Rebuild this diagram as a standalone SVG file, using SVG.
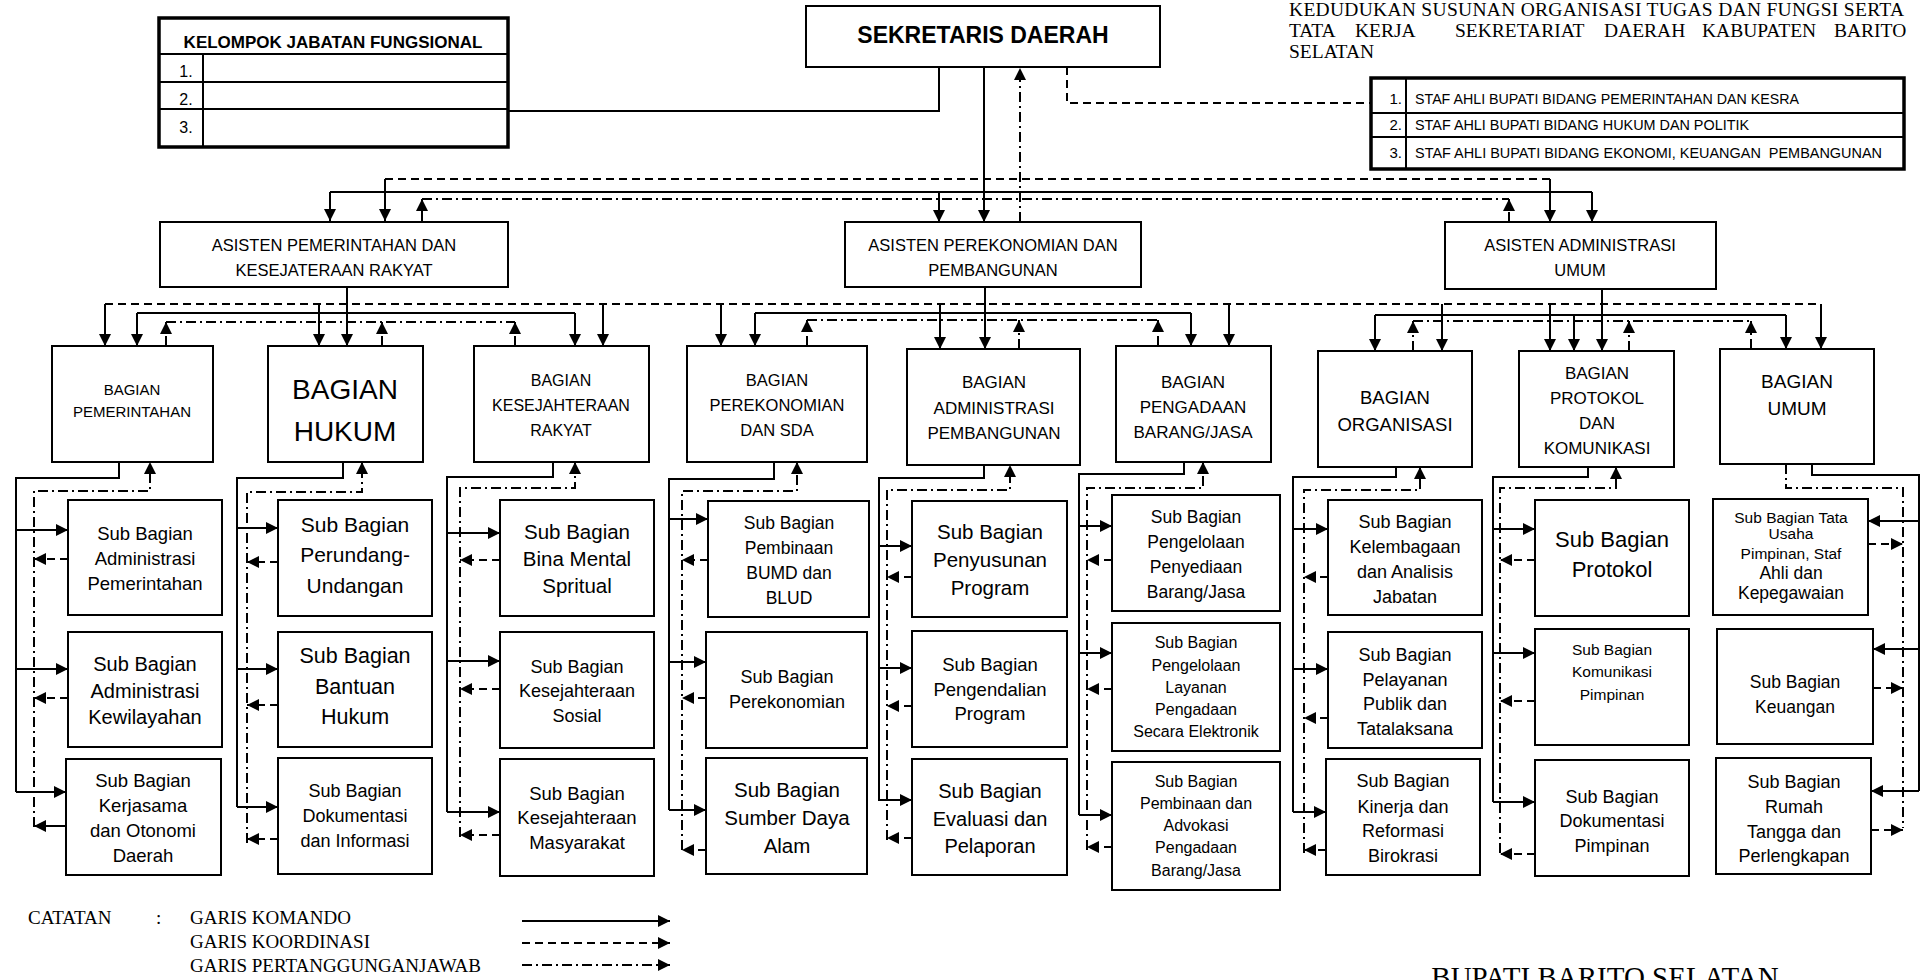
<svg xmlns="http://www.w3.org/2000/svg" width="1920" height="980" viewBox="0 0 1920 980">
<defs>
<marker id="ar" markerUnits="userSpaceOnUse" markerWidth="13" markerHeight="13" refX="12" refY="6.5" orient="auto"><path d="M0,0.5 L12,6.5 L0,12.5 z" fill="#000"/></marker>
<style>
.bx{fill:#fff;stroke:#000;stroke-width:2}
.tk{fill:#fff;stroke:#000;stroke-width:3.5}
.ln{fill:none;stroke:#000;stroke-width:2}
.t{font-family:"Liberation Sans",Arial,sans-serif;text-anchor:middle;fill:#000}
.ts{font-family:"Liberation Sans",Arial,sans-serif;fill:#000}
.sf{font-family:"Liberation Serif","Times New Roman",serif;fill:#000}
.s{fill:none;stroke:#000;stroke-width:2}
.d{fill:none;stroke:#000;stroke-width:2;stroke-dasharray:8 5}
.dd{fill:none;stroke:#000;stroke-width:2;stroke-dasharray:10 4 2 4}
.a{marker-end:url(#ar)}
</style>
</defs>
<rect width="1920" height="980" fill="#fff"/>

<!-- title -->
<g id="title" class="sf" font-size="19.5">
<text x="1289" y="16" textLength="615" lengthAdjust="spacing">KEDUDUKAN SUSUNAN ORGANISASI TUGAS DAN FUNGSI SERTA</text>
<text y="37"><tspan x="1289">TATA</tspan><tspan x="1355">KERJA</tspan><tspan x="1455">SEKRETARIAT</tspan><tspan x="1604">DAERAH</tspan><tspan x="1702">KABUPATEN</tspan><tspan x="1834">BARITO</tspan></text>
<text x="1289" y="58">SELATAN</text>
</g>

<!-- connectors -->
<g id="connectors">
<path class="s" d="M508,111 H939 V67"/>
<path class="s a" d="M984,67 V222"/>
<path class="dd a" d="M1020,222 V68"/>
<path class="d" d="M1067,67 V103 H1371"/>
<path class="d" d="M385,179 H1550"/>
<path class="s a" d="M385,179 V221"/>
<path class="s a" d="M1550,179 V222"/>
<path class="s" d="M330,192 H1592"/>
<path class="s a" d="M330,192 V221"/>
<path class="s a" d="M939,192 V222"/>
<path class="s a" d="M1592,192 V222"/>
<path class="dd" d="M422,199 H1509"/>
<path class="dd a" d="M422,221 V199"/>
<path class="dd a" d="M1509,222 V199"/>

<path class="s a" d="M347,287 V346"/>
<path class="s a" d="M985,287 V349"/>
<path class="s a" d="M1602,289 V351"/>

<path class="d" d="M105,304 H1821"/>
<path class="s a" d="M105,304 V346"/>
<path class="s a" d="M319,304 V346"/>
<path class="s a" d="M603,304 V346"/>
<path class="s a" d="M721,304 V346"/>
<path class="s a" d="M940,304 V349"/>
<path class="s a" d="M1229,304 V346"/>
<path class="s a" d="M1442,304 V351"/>
<path class="s a" d="M1550,304 V351"/>
<path class="s a" d="M1821,304 V349"/>

<path class="s" d="M137,313 H575"/>
<path class="s a" d="M137,313 V346"/>
<path class="s a" d="M575,313 V346"/>
<path class="s" d="M755,313 H1191"/>
<path class="s a" d="M755,313 V346"/>
<path class="s a" d="M1191,313 V346"/>
<path class="s" d="M1375,315 H1786"/>
<path class="s a" d="M1375,315 V351"/>
<path class="s a" d="M1574,315 V351"/>
<path class="s a" d="M1786,315 V349"/>

<path class="dd" d="M166,322 H515"/>
<path class="dd a" d="M166,346 V322"/>
<path class="dd a" d="M382,346 V322"/>
<path class="dd a" d="M515,346 V322"/>
<path class="dd" d="M807,320 H1158"/>
<path class="dd a" d="M807,346 V320"/>
<path class="dd a" d="M1019,349 V320"/>
<path class="dd a" d="M1158,346 V320"/>
<path class="dd" d="M1413,321 H1751"/>
<path class="dd a" d="M1413,351 V321"/>
<path class="dd a" d="M1629,351 V321"/>
<path class="dd a" d="M1751,349 V321"/>

<!-- G1 -->
<path class="s" d="M119,462 V478 H16 V792"/>
<path class="s a" d="M16,530 H68"/><path class="s a" d="M16,669 H68"/><path class="s a" d="M16,792 H66"/>
<path class="dd a" d="M34,827 V491 H150 V462"/>
<path class="d a" d="M68,559 H34"/><path class="d a" d="M68,698 H34"/><path class="s a" d="M66,826 H34"/>
<!-- G2 -->
<path class="s" d="M343,462 V478 H237 V807"/>
<path class="s a" d="M237,528 H278"/><path class="s a" d="M237,669 H278"/><path class="s a" d="M237,807 H278"/>
<path class="dd a" d="M247,843 V492 H362 V462"/>
<path class="d a" d="M278,562 H247"/><path class="d a" d="M278,705 H247"/><path class="d a" d="M278,839 H247"/>
<!-- G3 -->
<path class="s" d="M553,462 V477 H447 V812"/>
<path class="s a" d="M447,533 H500"/><path class="s a" d="M447,661 H500"/><path class="s a" d="M447,812 H500"/>
<path class="dd a" d="M460,837 V488 H575 V462"/>
<path class="d a" d="M500,560 H460"/><path class="d a" d="M500,689 H460"/><path class="d a" d="M500,835 H460"/>
<!-- G4 -->
<path class="s" d="M774,462 V479 H669 V810"/>
<path class="s a" d="M669,519 H708"/><path class="s a" d="M669,662 H706"/><path class="s a" d="M669,810 H706"/>
<path class="dd a" d="M682,850 V491 H797 V462"/>
<path class="d a" d="M708,560 H682"/><path class="d a" d="M706,698 H682"/><path class="d a" d="M706,850 H682"/>
<!-- G5 -->
<path class="s" d="M984,465 V478 H879 V801"/>
<path class="s a" d="M879,546 H912"/><path class="s a" d="M879,668 H912"/><path class="s a" d="M879,800 H912"/>
<path class="dd a" d="M887,840 V490 H1010 V465"/>
<path class="d a" d="M912,577 H887"/><path class="d a" d="M912,706 H887"/><path class="d a" d="M912,838 H887"/>
<!-- G6 -->
<path class="s" d="M1184,462 V474 H1079 V815"/>
<path class="s a" d="M1079,526 H1112"/><path class="s a" d="M1079,653 H1112"/><path class="s a" d="M1079,815 H1112"/>
<path class="dd a" d="M1087,850 V488 H1203 V462"/>
<path class="d a" d="M1112,560 H1087"/><path class="d a" d="M1112,689 H1087"/><path class="d a" d="M1112,847 H1087"/>
<!-- G7 -->
<path class="s" d="M1396,467 V477 H1293 V812"/>
<path class="s a" d="M1293,529 H1328"/><path class="s a" d="M1293,669 H1328"/><path class="s a" d="M1293,812 H1326"/>
<path class="dd a" d="M1304,853 V490 H1420 V467"/>
<path class="d a" d="M1328,577 H1304"/><path class="d a" d="M1328,718 H1304"/><path class="d a" d="M1326,850 H1304"/>
<!-- G8 -->
<path class="s" d="M1588,467 V477 H1493 V802"/>
<path class="s a" d="M1493,529 H1535"/><path class="s a" d="M1493,653 H1535"/><path class="s a" d="M1493,802 H1535"/>
<path class="dd a" d="M1500,853 V488 H1616 V467"/>
<path class="d a" d="M1535,560 H1500"/><path class="d a" d="M1535,701 H1500"/><path class="d a" d="M1535,854 H1500"/>
<!-- G9 -->
<path class="s" d="M1812,464 V475 H1919 V791"/>
<path class="s a" d="M1919,521 H1868"/><path class="s a" d="M1919,649 H1873"/><path class="s a" d="M1919,791 H1871"/>
<path class="dd" d="M1786,464 V488 H1903 V828"/>
<path class="d a" d="M1868,544 H1903"/><path class="d a" d="M1873,688 H1903"/><path class="d a" d="M1871,830 H1903"/>
</g>

<!-- top nodes -->
<g id="kelompok-jabatan-fungsional">
<rect class="tk" x="159" y="18" width="349" height="129"/>
<path class="ln" d="M159,54 H508" stroke-width="3"/>
<path class="ln" d="M159,82 H508 M159,109 H508 M203,54 V147"/>
<text class="t" x="333" y="48" font-size="17" font-weight="bold">KELOMPOK JABATAN FUNGSIONAL</text>
<text class="t" font-size="16"><tspan x="186" y="77">1.</tspan><tspan x="186" y="105">2.</tspan><tspan x="186" y="133">3.</tspan></text>
</g>
<g id="sekretaris-daerah">
<rect class="bx" x="806" y="6" width="354" height="61"/>
<text class="t" x="983" y="43" font-size="23" font-weight="bold">SEKRETARIS DAERAH</text>
</g>
<g id="staf-ahli">
<rect class="tk" x="1371" y="78" width="533" height="91"/>
<path class="ln" d="M1371,113 H1904 M1371,137 H1904 M1406,78 V169"/>
<text class="ts" font-size="15" text-anchor="end"><tspan x="1402" y="104">1.</tspan><tspan x="1402" y="130">2.</tspan><tspan x="1402" y="158">3.</tspan></text>
<text class="ts" font-size="14.5" x="1415" y="104" textLength="384" lengthAdjust="spacingAndGlyphs">STAF AHLI BUPATI BIDANG PEMERINTAHAN DAN KESRA</text>
<text class="ts" font-size="14.5" x="1415" y="130" textLength="334" lengthAdjust="spacingAndGlyphs">STAF AHLI BUPATI BIDANG HUKUM DAN POLITIK</text>
<text class="ts" font-size="14.5" x="1415" y="158" textLength="467" lengthAdjust="spacingAndGlyphs" xml:space="preserve">STAF AHLI BUPATI BIDANG EKONOMI, KEUANGAN  PEMBANGUNAN</text>
</g>

<!-- asisten -->
<g id="asisten-pemerintahan">
<rect class="bx" x="160" y="222" width="348" height="65"/>
<text class="t" font-size="16.5"><tspan x="334" y="251">ASISTEN PEMERINTAHAN DAN</tspan><tspan x="334" y="276">KESEJATERAAN RAKYAT</tspan></text>
</g>
<g id="asisten-perekonomian">
<rect class="bx" x="845" y="222" width="296" height="65"/>
<text class="t" font-size="16.5"><tspan x="993" y="251">ASISTEN PEREKONOMIAN DAN</tspan><tspan x="993" y="276">PEMBANGUNAN</tspan></text>
</g>
<g id="asisten-administrasi">
<rect class="bx" x="1445" y="222" width="271" height="67"/>
<text class="t" font-size="16.5"><tspan x="1580" y="251">ASISTEN ADMINISTRASI</tspan><tspan x="1580" y="276">UMUM</tspan></text>
</g>

<!-- bagian -->
<g id="bagian-pemerintahan">
<rect class="bx" x="52" y="346" width="161" height="116"/>
<text class="t" font-size="15"><tspan x="132" y="395">BAGIAN</tspan><tspan x="132" y="417">PEMERINTAHAN</tspan></text>
</g>
<g id="bagian-hukum">
<rect class="bx" x="268" y="346" width="155" height="116"/>
<text class="t" font-size="28"><tspan x="345" y="399">BAGIAN</tspan><tspan x="345" y="441">HUKUM</tspan></text>
</g>
<g id="bagian-kesra">
<rect class="bx" x="474" y="346" width="175" height="116"/>
<text class="t" font-size="16"><tspan x="561" y="386">BAGIAN</tspan><tspan x="561" y="411">KESEJAHTERAAN</tspan><tspan x="561" y="436">RAKYAT</tspan></text>
</g>
<g id="bagian-perekonomian">
<rect class="bx" x="687" y="346" width="180" height="116"/>
<text class="t" font-size="16.5"><tspan x="777" y="386">BAGIAN</tspan><tspan x="777" y="411">PEREKONOMIAN</tspan><tspan x="777" y="436">DAN SDA</tspan></text>
</g>
<g id="bagian-administrasi-pembangunan">
<rect class="bx" x="907" y="349" width="173" height="116"/>
<text class="t" font-size="17"><tspan x="994" y="388">BAGIAN</tspan><tspan x="994" y="414">ADMINISTRASI</tspan><tspan x="994" y="439">PEMBANGUNAN</tspan></text>
</g>
<g id="bagian-pengadaan">
<rect class="bx" x="1116" y="346" width="155" height="116"/>
<text class="t" font-size="17"><tspan x="1193" y="388">BAGIAN</tspan><tspan x="1193" y="413">PENGADAAN</tspan><tspan x="1193" y="438">BARANG/JASA</tspan></text>
</g>
<g id="bagian-organisasi">
<rect class="bx" x="1318" y="351" width="154" height="116"/>
<text class="t" font-size="18.5"><tspan x="1395" y="404">BAGIAN</tspan><tspan x="1395" y="431">ORGANISASI</tspan></text>
</g>
<g id="bagian-protokol">
<rect class="bx" x="1519" y="351" width="155" height="116"/>
<text class="t" font-size="17"><tspan x="1597" y="379">BAGIAN</tspan><tspan x="1597" y="404">PROTOKOL</tspan><tspan x="1597" y="429">DAN</tspan><tspan x="1597" y="454">KOMUNIKASI</tspan></text>
</g>
<g id="bagian-umum">
<rect class="bx" x="1720" y="349" width="154" height="115"/>
<text class="t" font-size="19"><tspan x="1797" y="388">BAGIAN</tspan><tspan x="1797" y="415">UMUM</tspan></text>
</g>

<!-- sub bagian -->
<g id="sb-adm-pemerintahan"><rect class="bx" x="68" y="500" width="154" height="115"/>
<text class="t" font-size="18.5"><tspan x="145" y="540">Sub Bagian</tspan><tspan x="145" y="565">Administrasi</tspan><tspan x="145" y="590">Pemerintahan</tspan></text></g>
<g id="sb-adm-kewilayahan"><rect class="bx" x="68" y="632" width="154" height="115"/>
<text class="t" font-size="20"><tspan x="145" y="671">Sub Bagian</tspan><tspan x="145" y="698">Administrasi</tspan><tspan x="145" y="724">Kewilayahan</tspan></text></g>
<g id="sb-kerjasama"><rect class="bx" x="66" y="759" width="155" height="116"/>
<text class="t" font-size="18.5"><tspan x="143" y="787">Sub Bagian</tspan><tspan x="143" y="812">Kerjasama</tspan><tspan x="143" y="837">dan Otonomi</tspan><tspan x="143" y="862">Daerah</tspan></text></g>

<g id="sb-perundang"><rect class="bx" x="278" y="500" width="154" height="116"/>
<text class="t" font-size="21"><tspan x="355" y="532">Sub Bagian</tspan><tspan x="355" y="562">Perundang-</tspan><tspan x="355" y="593">Undangan</tspan></text></g>
<g id="sb-bantuan-hukum"><rect class="bx" x="278" y="632" width="154" height="115"/>
<text class="t" font-size="21.5"><tspan x="355" y="663">Sub Bagian</tspan><tspan x="355" y="694">Bantuan</tspan><tspan x="355" y="724">Hukum</tspan></text></g>
<g id="sb-dokumentasi-informasi"><rect class="bx" x="278" y="758" width="154" height="116"/>
<text class="t" font-size="18"><tspan x="355" y="797">Sub Bagian</tspan><tspan x="355" y="822">Dokumentasi</tspan><tspan x="355" y="847">dan Informasi</tspan></text></g>

<g id="sb-bina-mental"><rect class="bx" x="500" y="500" width="154" height="116"/>
<text class="t" font-size="20.5"><tspan x="577" y="539">Sub Bagian</tspan><tspan x="577" y="566">Bina Mental</tspan><tspan x="577" y="593">Spritual</tspan></text></g>
<g id="sb-kesos"><rect class="bx" x="500" y="632" width="154" height="116"/>
<text class="t" font-size="18"><tspan x="577" y="673">Sub Bagian</tspan><tspan x="577" y="697">Kesejahteraan</tspan><tspan x="577" y="722">Sosial</tspan></text></g>
<g id="sb-kesmas"><rect class="bx" x="500" y="759" width="154" height="117"/>
<text class="t" font-size="18.5"><tspan x="577" y="800">Sub Bagian</tspan><tspan x="577" y="824">Kesejahteraan</tspan><tspan x="577" y="849">Masyarakat</tspan></text></g>

<g id="sb-bumd"><rect class="bx" x="708" y="501" width="161" height="116"/>
<text class="t" font-size="17.5"><tspan x="789" y="529">Sub Bagian</tspan><tspan x="789" y="554">Pembinaan</tspan><tspan x="789" y="579">BUMD dan</tspan><tspan x="789" y="604">BLUD</tspan></text></g>
<g id="sb-perekonomian"><rect class="bx" x="706" y="632" width="161" height="116"/>
<text class="t" font-size="18"><tspan x="787" y="683">Sub Bagian</tspan><tspan x="787" y="708">Perekonomian</tspan></text></g>
<g id="sb-sda"><rect class="bx" x="706" y="758" width="161" height="116"/>
<text class="t" font-size="20.5"><tspan x="787" y="797">Sub Bagian</tspan><tspan x="787" y="825">Sumber Daya</tspan><tspan x="787" y="853">Alam</tspan></text></g>

<g id="sb-penyusunan"><rect class="bx" x="912" y="501" width="155" height="116"/>
<text class="t" font-size="20.5"><tspan x="990" y="539">Sub Bagian</tspan><tspan x="990" y="567">Penyusunan</tspan><tspan x="990" y="595">Program</tspan></text></g>
<g id="sb-pengendalian"><rect class="bx" x="912" y="631" width="155" height="116"/>
<text class="t" font-size="18.5"><tspan x="990" y="671">Sub Bagian</tspan><tspan x="990" y="696">Pengendalian</tspan><tspan x="990" y="720">Program</tspan></text></g>
<g id="sb-evaluasi"><rect class="bx" x="912" y="759" width="155" height="116"/>
<text class="t" font-size="20"><tspan x="990" y="798">Sub Bagian</tspan><tspan x="990" y="826">Evaluasi dan</tspan><tspan x="990" y="853">Pelaporan</tspan></text></g>

<g id="sb-penyediaan"><rect class="bx" x="1112" y="495" width="168" height="116"/>
<text class="t" font-size="17.5"><tspan x="1196" y="523">Sub Bagian</tspan><tspan x="1196" y="548">Pengelolaan</tspan><tspan x="1196" y="573">Penyediaan</tspan><tspan x="1196" y="598">Barang/Jasa</tspan></text></g>
<g id="sb-lpse"><rect class="bx" x="1112" y="623" width="168" height="128"/>
<text class="t" font-size="16"><tspan x="1196" y="648">Sub Bagian</tspan><tspan x="1196" y="671">Pengelolaan</tspan><tspan x="1196" y="693">Layanan</tspan><tspan x="1196" y="715">Pengadaan</tspan><tspan x="1196" y="737">Secara Elektronik</tspan></text></g>
<g id="sb-advokasi"><rect class="bx" x="1112" y="762" width="168" height="128"/>
<text class="t" font-size="16"><tspan x="1196" y="787">Sub Bagian</tspan><tspan x="1196" y="809">Pembinaan dan</tspan><tspan x="1196" y="831">Advokasi</tspan><tspan x="1196" y="853">Pengadaan</tspan><tspan x="1196" y="876">Barang/Jasa</tspan></text></g>

<g id="sb-kelembagaan"><rect class="bx" x="1328" y="500" width="154" height="115"/>
<text class="t" font-size="18"><tspan x="1405" y="528">Sub Bagian</tspan><tspan x="1405" y="553">Kelembagaan</tspan><tspan x="1405" y="578">dan Analisis</tspan><tspan x="1405" y="603">Jabatan</tspan></text></g>
<g id="sb-pelayanan-publik"><rect class="bx" x="1328" y="632" width="154" height="116"/>
<text class="t" font-size="18"><tspan x="1405" y="661">Sub Bagian</tspan><tspan x="1405" y="686">Pelayanan</tspan><tspan x="1405" y="710">Publik dan</tspan><tspan x="1405" y="735">Tatalaksana</tspan></text></g>
<g id="sb-kinerja"><rect class="bx" x="1326" y="759" width="154" height="116"/>
<text class="t" font-size="18"><tspan x="1403" y="787">Sub Bagian</tspan><tspan x="1403" y="813">Kinerja dan</tspan><tspan x="1403" y="837">Reformasi</tspan><tspan x="1403" y="862">Birokrasi</tspan></text></g>

<g id="sb-protokol"><rect class="bx" x="1535" y="500" width="154" height="116"/>
<text class="t" font-size="22"><tspan x="1612" y="547">Sub Bagian</tspan><tspan x="1612" y="577">Protokol</tspan></text></g>
<g id="sb-komunikasi"><rect class="bx" x="1535" y="629" width="154" height="116"/>
<text class="t" font-size="15.5"><tspan x="1612" y="655">Sub Bagian</tspan><tspan x="1612" y="677">Komunikasi</tspan><tspan x="1612" y="700">Pimpinan</tspan></text></g>
<g id="sb-dokumentasi-pimpinan"><rect class="bx" x="1535" y="760" width="154" height="116"/>
<text class="t" font-size="18"><tspan x="1612" y="803">Sub Bagian</tspan><tspan x="1612" y="827">Dokumentasi</tspan><tspan x="1612" y="852">Pimpinan</tspan></text></g>

<g id="sb-tata-usaha"><rect class="bx" x="1713" y="499" width="155" height="116"/>
<text class="t" font-size="15.5"><tspan x="1791" y="523">Sub Bagian Tata</tspan><tspan x="1791" y="539">Usaha</tspan><tspan x="1791" y="559">Pimpinan, Staf</tspan><tspan x="1791" y="579" font-size="17.5">Ahli dan</tspan><tspan x="1791" y="599" font-size="17.5">Kepegawaian</tspan></text></g>
<g id="sb-keuangan"><rect class="bx" x="1717" y="629" width="156" height="115"/>
<text class="t" font-size="17.5"><tspan x="1795" y="688">Sub Bagian</tspan><tspan x="1795" y="713">Keuangan</tspan></text></g>
<g id="sb-rumah-tangga"><rect class="bx" x="1716" y="758" width="155" height="116"/>
<text class="t" font-size="18"><tspan x="1794" y="788">Sub Bagian</tspan><tspan x="1794" y="813">Rumah</tspan><tspan x="1794" y="838">Tangga dan</tspan><tspan x="1794" y="862">Perlengkapan</tspan></text></g>

<!-- legend -->
<g id="legend">
<text class="sf" font-size="19"><tspan x="28" y="924">CATATAN</tspan><tspan x="156" y="924">:</tspan><tspan x="190" y="924">GARIS KOMANDO</tspan><tspan x="190" y="948">GARIS KOORDINASI</tspan><tspan x="190" y="972">GARIS PERTANGGUNGANJAWAB</tspan></text>
<path class="s a" d="M522,921 H670"/>
<path class="d a" d="M522,943 H670"/>
<path class="dd a" d="M522,965 H670"/>
</g>
<text class="sf" x="1605" y="987" font-size="29" text-anchor="middle">BUPATI BARITO SELATAN</text>
</svg>
